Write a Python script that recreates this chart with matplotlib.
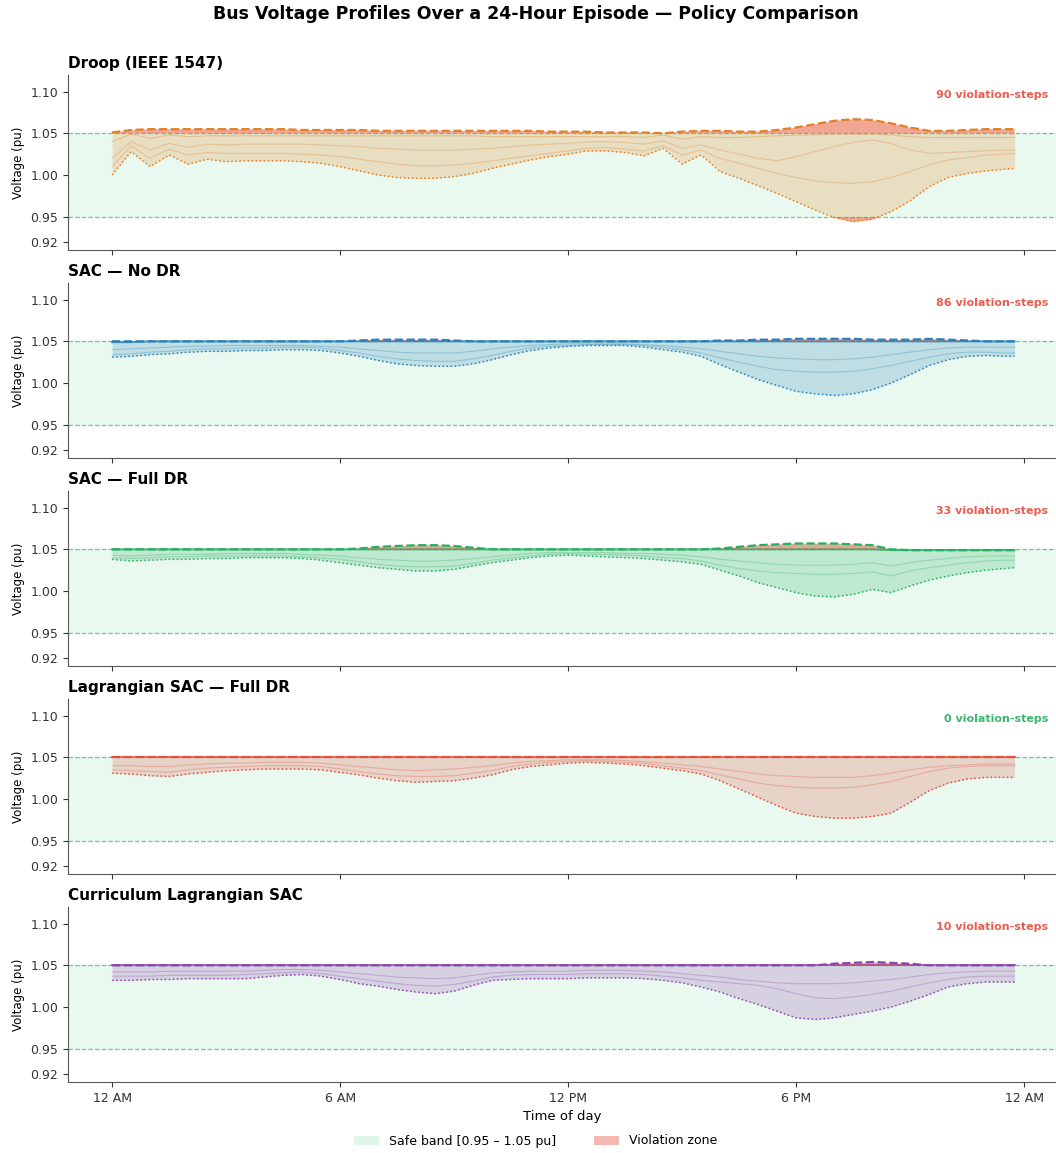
import matplotlib.pyplot as plt
from matplotlib.patches import Patch
import numpy as np

# time grid (hours) - half hour samples, last step at 23:45
hours = np.append(np.arange(0, 24, 0.5), 23.75)

policy_names = [
    "Droop (IEEE 1547)",
    "SAC — No DR",
    "SAC — Full DR",
    "Lagrangian SAC — Full DR",
    "Curriculum Lagrangian SAC",
]
policy_colors = ["#e67e22", "#2980b9", "#27ae60", "#e74c3c", "#8e44ad"]
violation_steps = [90, 86, 33, 0, 10]

tick_hours = [0, 6, 12, 18, 24]
tick_labels = ["12 AM", "6 AM", "12 PM", "6 PM", "12 AM"]

# ---- Droop ----
droop_max = [1.051, 1.054, 1.055, 1.055, 1.055, 1.055, 1.055, 1.055, 1.055, 1.055, 1.054, 1.054,
             1.054, 1.054, 1.053, 1.053, 1.053, 1.053, 1.053, 1.053, 1.053, 1.053, 1.053, 1.052,
             1.052, 1.052, 1.051, 1.051, 1.051, 1.050, 1.052, 1.053, 1.053, 1.052, 1.052, 1.054,
             1.057, 1.061, 1.065, 1.067, 1.066, 1.062, 1.057, 1.053, 1.053, 1.054, 1.055, 1.055, 1.055]
droop_min = [1.000, 1.028, 1.010, 1.024, 1.013, 1.019, 1.016, 1.017, 1.017, 1.017, 1.016, 1.014,
             1.010, 1.005, 1.000, 0.997, 0.996, 0.996, 0.998, 1.002, 1.008, 1.013, 1.018, 1.022,
             1.025, 1.029, 1.029, 1.027, 1.023, 1.032, 1.013, 1.024, 1.004, 0.996, 0.987, 0.978,
             0.968, 0.958, 0.949, 0.944, 0.947, 0.956, 0.969, 0.986, 0.997, 1.002, 1.005, 1.007, 1.008]
droop_bus1 = [1.040, 1.049, 1.044, 1.048, 1.046, 1.047, 1.047, 1.047, 1.047, 1.047, 1.047, 1.047,
              1.047, 1.047, 1.047, 1.047, 1.047, 1.047, 1.047, 1.047, 1.046, 1.046, 1.046, 1.046,
              1.046, 1.046, 1.046, 1.046, 1.045, 1.048, 1.043, 1.046, 1.045, 1.045, 1.046, 1.047,
              1.048, 1.048, 1.049, 1.049, 1.049, 1.048, 1.046, 1.045, 1.045, 1.045, 1.045, 1.045, 1.045]
droop_bus2 = [1.020, 1.040, 1.030, 1.038, 1.033, 1.037, 1.036, 1.037, 1.037, 1.037, 1.037, 1.036,
              1.035, 1.034, 1.032, 1.031, 1.030, 1.030, 1.030, 1.031, 1.032, 1.034, 1.036, 1.037,
              1.038, 1.040, 1.040, 1.039, 1.037, 1.041, 1.032, 1.036, 1.030, 1.025, 1.020, 1.017,
              1.022, 1.028, 1.034, 1.039, 1.042, 1.038, 1.030, 1.026, 1.027, 1.028, 1.029, 1.030, 1.030]
droop_bus3 = [1.010, 1.035, 1.020, 1.031, 1.024, 1.027, 1.026, 1.026, 1.026, 1.026, 1.025, 1.024,
              1.022, 1.019, 1.016, 1.013, 1.011, 1.011, 1.012, 1.014, 1.017, 1.020, 1.023, 1.026,
              1.029, 1.032, 1.033, 1.031, 1.029, 1.035, 1.024, 1.030, 1.020, 1.014, 1.008, 1.002,
              0.997, 0.993, 0.991, 0.990, 0.992, 0.997, 1.004, 1.012, 1.018, 1.021, 1.024, 1.025, 1.026]

# ---- SAC, no DR ----
sac_nodr_max = [1.050, 1.050, 1.050, 1.050, 1.050, 1.050, 1.050, 1.050, 1.050, 1.050, 1.050, 1.050,
                1.050, 1.051, 1.052, 1.052, 1.052, 1.052, 1.051, 1.050, 1.050, 1.050, 1.050, 1.050,
                1.050, 1.050, 1.050, 1.050, 1.050, 1.050, 1.050, 1.050, 1.051, 1.051, 1.052, 1.052,
                1.053, 1.053, 1.053, 1.053, 1.052, 1.052, 1.052, 1.053, 1.052, 1.051, 1.050, 1.050, 1.050]
sac_nodr_min = [1.031, 1.032, 1.034, 1.035, 1.037, 1.038, 1.038, 1.039, 1.039, 1.040, 1.040, 1.039,
                1.036, 1.032, 1.027, 1.023, 1.021, 1.020, 1.020, 1.023, 1.028, 1.034, 1.039, 1.042,
                1.044, 1.045, 1.045, 1.045, 1.043, 1.040, 1.037, 1.032, 1.022, 1.013, 1.004, 0.997,
                0.990, 0.987, 0.985, 0.987, 0.992, 1.000, 1.010, 1.021, 1.028, 1.032, 1.033, 1.032, 1.032]
sac_nodr_bus1 = [1.049, 1.049, 1.050, 1.050, 1.050, 1.050, 1.050, 1.050, 1.050, 1.050, 1.050, 1.050,
                 1.050, 1.050, 1.050, 1.050, 1.050, 1.050, 1.050, 1.050, 1.050, 1.050, 1.050, 1.050,
                 1.050, 1.050, 1.050, 1.050, 1.050, 1.050, 1.050, 1.050, 1.050, 1.050, 1.050, 1.050,
                 1.050, 1.050, 1.050, 1.050, 1.050, 1.050, 1.050, 1.050, 1.050, 1.050, 1.050, 1.050, 1.050]
sac_nodr_bus2 = [1.040, 1.041, 1.042, 1.043, 1.044, 1.044, 1.045, 1.045, 1.045, 1.045, 1.045, 1.044,
                 1.043, 1.041, 1.039, 1.037, 1.036, 1.036, 1.036, 1.038, 1.041, 1.043, 1.045, 1.046,
                 1.047, 1.047, 1.047, 1.047, 1.046, 1.045, 1.043, 1.041, 1.038, 1.035, 1.032, 1.030,
                 1.029, 1.028, 1.028, 1.029, 1.031, 1.034, 1.037, 1.040, 1.042, 1.043, 1.043, 1.043, 1.043]
sac_nodr_bus3 = [1.034, 1.035, 1.037, 1.038, 1.040, 1.041, 1.041, 1.042, 1.042, 1.043, 1.043, 1.042,
                 1.039, 1.036, 1.032, 1.029, 1.027, 1.026, 1.026, 1.029, 1.033, 1.038, 1.042, 1.044,
                 1.045, 1.046, 1.046, 1.046, 1.045, 1.043, 1.040, 1.036, 1.030, 1.025, 1.020, 1.016,
                 1.014, 1.013, 1.013, 1.014, 1.017, 1.021, 1.026, 1.031, 1.035, 1.037, 1.037, 1.036, 1.036]

# ---- SAC, full DR ----
sac_full_max = [1.050, 1.050, 1.050, 1.050, 1.050, 1.050, 1.050, 1.050, 1.050, 1.050, 1.050, 1.050,
                1.050, 1.051, 1.053, 1.054, 1.055, 1.055, 1.054, 1.052, 1.050, 1.050, 1.050, 1.050,
                1.050, 1.050, 1.050, 1.050, 1.050, 1.050, 1.050, 1.050, 1.051, 1.053, 1.055, 1.056,
                1.057, 1.057, 1.057, 1.056, 1.055, 1.050, 1.049, 1.049, 1.049, 1.049, 1.049, 1.049, 1.049]
sac_full_min = [1.038, 1.036, 1.037, 1.038, 1.038, 1.039, 1.039, 1.040, 1.040, 1.040, 1.039, 1.037,
                1.034, 1.031, 1.028, 1.026, 1.024, 1.024, 1.026, 1.030, 1.034, 1.037, 1.040, 1.042,
                1.043, 1.042, 1.041, 1.040, 1.039, 1.037, 1.035, 1.032, 1.025, 1.018, 1.010, 1.004,
                0.998, 0.994, 0.993, 0.996, 1.002, 0.998, 1.006, 1.013, 1.018, 1.022, 1.025, 1.027, 1.028]
sac_full_bus1 = [1.050, 1.050, 1.050, 1.050, 1.050, 1.050, 1.050, 1.050, 1.050, 1.050, 1.050, 1.050,
                 1.050, 1.050, 1.050, 1.050, 1.050, 1.050, 1.050, 1.050, 1.050, 1.050, 1.050, 1.050,
                 1.050, 1.050, 1.050, 1.050, 1.050, 1.050, 1.050, 1.050, 1.050, 1.050, 1.050, 1.050,
                 1.050, 1.050, 1.050, 1.050, 1.050, 1.049, 1.049, 1.049, 1.049, 1.049, 1.049, 1.049, 1.049]
sac_full_bus2 = [1.043, 1.042, 1.043, 1.044, 1.044, 1.044, 1.045, 1.045, 1.045, 1.045, 1.044, 1.043,
                 1.042, 1.040, 1.038, 1.037, 1.036, 1.036, 1.037, 1.039, 1.041, 1.043, 1.045, 1.046,
                 1.046, 1.046, 1.046, 1.045, 1.045, 1.044, 1.043, 1.041, 1.038, 1.036, 1.034, 1.032,
                 1.031, 1.031, 1.031, 1.032, 1.034, 1.030, 1.034, 1.037, 1.039, 1.041, 1.042, 1.042, 1.042]
sac_full_bus3 = [1.040, 1.039, 1.040, 1.041, 1.041, 1.042, 1.042, 1.042, 1.042, 1.042, 1.041, 1.040,
                 1.038, 1.035, 1.032, 1.030, 1.029, 1.029, 1.030, 1.033, 1.037, 1.040, 1.042, 1.044,
                 1.045, 1.044, 1.044, 1.043, 1.042, 1.040, 1.039, 1.036, 1.031, 1.027, 1.024, 1.022,
                 1.021, 1.020, 1.020, 1.021, 1.023, 1.018, 1.024, 1.028, 1.031, 1.034, 1.036, 1.037, 1.037]

# ---- Lagrangian SAC, full DR ----
lagr_max = [1.050, 1.050, 1.050, 1.050, 1.050, 1.050, 1.050, 1.050, 1.050, 1.050, 1.050, 1.050,
            1.050, 1.050, 1.050, 1.050, 1.050, 1.050, 1.050, 1.050, 1.050, 1.050, 1.050, 1.050,
            1.050, 1.050, 1.050, 1.050, 1.050, 1.050, 1.050, 1.050, 1.050, 1.050, 1.050, 1.050,
            1.050, 1.050, 1.050, 1.050, 1.050, 1.050, 1.050, 1.050, 1.050, 1.050, 1.050, 1.050, 1.050]
lagr_min = [1.031, 1.030, 1.028, 1.027, 1.030, 1.032, 1.034, 1.035, 1.036, 1.036, 1.036, 1.035,
            1.032, 1.029, 1.025, 1.022, 1.020, 1.021, 1.022, 1.025, 1.029, 1.035, 1.039, 1.041,
            1.043, 1.044, 1.043, 1.042, 1.040, 1.037, 1.034, 1.030, 1.022, 1.012, 1.002, 0.992,
            0.983, 0.979, 0.977, 0.977, 0.979, 0.983, 0.996, 1.010, 1.019, 1.024, 1.026, 1.026, 1.026]
lagr_bus1 = [1.050, 1.050, 1.050, 1.050, 1.050, 1.050, 1.050, 1.050, 1.050, 1.050, 1.050, 1.050,
             1.050, 1.050, 1.050, 1.050, 1.050, 1.050, 1.050, 1.050, 1.050, 1.050, 1.050, 1.050,
             1.050, 1.050, 1.050, 1.050, 1.050, 1.050, 1.050, 1.050, 1.050, 1.050, 1.050, 1.050,
             1.050, 1.050, 1.050, 1.050, 1.050, 1.050, 1.050, 1.050, 1.050, 1.050, 1.050, 1.050, 1.050]
lagr_bus2 = [1.040, 1.040, 1.039, 1.039, 1.041, 1.042, 1.043, 1.043, 1.044, 1.044, 1.044, 1.043,
             1.041, 1.039, 1.037, 1.035, 1.034, 1.035, 1.036, 1.038, 1.040, 1.043, 1.045, 1.046,
             1.047, 1.047, 1.047, 1.046, 1.045, 1.043, 1.041, 1.039, 1.036, 1.033, 1.030, 1.028,
             1.027, 1.026, 1.026, 1.026, 1.028, 1.031, 1.035, 1.038, 1.040, 1.041, 1.042, 1.042, 1.042]
lagr_bus3 = [1.035, 1.034, 1.033, 1.032, 1.035, 1.037, 1.038, 1.039, 1.040, 1.040, 1.040, 1.039,
             1.036, 1.033, 1.030, 1.028, 1.027, 1.027, 1.028, 1.031, 1.034, 1.039, 1.042, 1.044,
             1.045, 1.046, 1.045, 1.044, 1.043, 1.040, 1.037, 1.034, 1.029, 1.024, 1.019, 1.016,
             1.014, 1.013, 1.013, 1.014, 1.017, 1.021, 1.027, 1.033, 1.037, 1.039, 1.040, 1.040, 1.040]

# ---- Curriculum Lagrangian SAC ----
curr_max = [1.050, 1.050, 1.050, 1.050, 1.050, 1.050, 1.050, 1.050, 1.050, 1.050, 1.050, 1.050,
            1.050, 1.050, 1.050, 1.050, 1.050, 1.050, 1.050, 1.050, 1.050, 1.050, 1.050, 1.050,
            1.050, 1.050, 1.050, 1.050, 1.050, 1.050, 1.050, 1.050, 1.050, 1.050, 1.050, 1.050,
            1.050, 1.050, 1.052, 1.053, 1.054, 1.053, 1.052, 1.050, 1.050, 1.050, 1.050, 1.050, 1.050]
curr_min = [1.032, 1.032, 1.033, 1.033, 1.034, 1.034, 1.034, 1.034, 1.036, 1.038, 1.039, 1.037,
            1.033, 1.028, 1.025, 1.021, 1.018, 1.016, 1.019, 1.026, 1.032, 1.033, 1.034, 1.034,
            1.034, 1.035, 1.035, 1.035, 1.034, 1.032, 1.029, 1.024, 1.018, 1.010, 1.003, 0.995,
            0.987, 0.985, 0.987, 0.991, 0.995, 1.000, 1.007, 1.015, 1.024, 1.028, 1.030, 1.030, 1.030]
curr_bus1 = [1.050, 1.050, 1.050, 1.050, 1.050, 1.050, 1.050, 1.050, 1.050, 1.050, 1.050, 1.050,
             1.050, 1.050, 1.050, 1.050, 1.050, 1.050, 1.050, 1.050, 1.050, 1.050, 1.050, 1.050,
             1.050, 1.050, 1.050, 1.050, 1.050, 1.050, 1.050, 1.050, 1.050, 1.050, 1.050, 1.050,
             1.050, 1.050, 1.050, 1.050, 1.050, 1.050, 1.050, 1.050, 1.050, 1.050, 1.050, 1.050, 1.050]
curr_bus2 = [1.042, 1.042, 1.042, 1.043, 1.043, 1.043, 1.043, 1.043, 1.044, 1.045, 1.045, 1.044,
             1.042, 1.040, 1.038, 1.036, 1.035, 1.034, 1.035, 1.038, 1.041, 1.042, 1.043, 1.043,
             1.043, 1.044, 1.044, 1.044, 1.043, 1.042, 1.040, 1.038, 1.036, 1.033, 1.031, 1.029,
             1.028, 1.028, 1.028, 1.029, 1.031, 1.033, 1.036, 1.039, 1.041, 1.042, 1.043, 1.043, 1.043]
curr_bus3 = [1.037, 1.037, 1.037, 1.038, 1.038, 1.038, 1.038, 1.039, 1.040, 1.041, 1.042, 1.040,
             1.037, 1.034, 1.031, 1.028, 1.026, 1.025, 1.027, 1.031, 1.036, 1.038, 1.039, 1.039,
             1.039, 1.040, 1.040, 1.040, 1.039, 1.037, 1.035, 1.032, 1.030, 1.028, 1.026, 1.022,
             1.016, 1.011, 1.010, 1.012, 1.015, 1.019, 1.024, 1.029, 1.033, 1.036, 1.037, 1.037, 1.037]

v_max_all = [droop_max, sac_nodr_max, sac_full_max, lagr_max, curr_max]
v_min_all = [droop_min, sac_nodr_min, sac_full_min, lagr_min, curr_min]
buses_all = [
    [droop_bus1, droop_bus2, droop_bus3],
    [sac_nodr_bus1, sac_nodr_bus2, sac_nodr_bus3],
    [sac_full_bus1, sac_full_bus2, sac_full_bus3],
    [lagr_bus1, lagr_bus2, lagr_bus3],
    [curr_bus1, curr_bus2, curr_bus3],
]

V_LO, V_HI = 0.95, 1.05
SAFE_C = "#2ecc71"
VIOL_C = "#e74c3c"

W, H = 1056, 1153
fig = plt.figure(figsize=(W / 100, H / 100), dpi=100)

axes = []
for i in range(5):
    top_px = 75 + 208 * i
    ax = fig.add_axes([68 / W, 1 - (top_px + 175) / H, 988 / W, 175 / H])
    axes.append(ax)

for i, ax in enumerate(axes):
    c = policy_colors[i]
    vmax = np.array(v_max_all[i])
    vmin = np.array(v_min_all[i])

    # safe band
    ax.axhspan(V_LO, V_HI, color=SAFE_C, alpha=0.1, lw=0, zorder=0)
    ax.axhline(V_LO, color=SAFE_C, ls="--", lw=0.9, alpha=0.8, zorder=1)
    ax.axhline(V_HI, color=SAFE_C, ls="--", lw=0.9, alpha=0.8, zorder=1)

    # envelope of all buses
    ax.fill_between(hours, vmin, vmax, color=c, alpha=0.22, lw=0, zorder=2)
    head, *others = buses_all[i]
    # feeder head bus is held at the limit by the RL agents
    head_alpha = 0.35 if i == 0 else 0.8
    head_lw = 0.8 if i == 0 else 1.4
    ax.plot(hours, head, color=c, lw=head_lw, alpha=head_alpha, zorder=3)
    for b in others:
        ax.plot(hours, b, color=c, lw=0.8, alpha=0.3, zorder=3)
    ax.plot(hours, vmax, color=c, ls="--", lw=1.6, zorder=4)
    ax.plot(hours, vmin, color=c, ls=":", lw=1.1, zorder=4)

    # violation zones
    ax.fill_between(hours, V_HI, vmax, where=vmax > V_HI, interpolate=True,
                    color=VIOL_C, alpha=0.4, lw=0, zorder=3)
    ax.fill_between(hours, vmin, V_LO, where=vmin < V_LO, interpolate=True,
                    color=VIOL_C, alpha=0.4, lw=0, zorder=3)

    n = violation_steps[i]
    ax.text(0.992, 0.886, f"{n} violation-steps", transform=ax.transAxes,
            ha="right", va="center", fontsize=8, fontweight="bold",
            color=VIOL_C if n > 0 else "#27ae60", alpha=0.9)

    ax.set_title(policy_names[i], loc="left", fontsize=11, fontweight="bold", pad=5)
    ax.set_xlim(-1.16, 24.84)
    ax.set_ylim(0.91, 1.12)
    ax.set_yticks([0.92, 0.95, 1.00, 1.05, 1.10])
    ax.set_yticklabels(["0.92", "0.95", "1.00", "1.05", "1.10"])
    ax.set_xticks(tick_hours)
    ax.set_ylabel("Voltage (pu)", fontsize=8.5)
    ax.tick_params(labelsize=9, colors="#333333")
    for s in ["top", "right"]:
        ax.spines[s].set_visible(False)
    for s in ["left", "bottom"]:
        ax.spines[s].set_color("#555555")
    if i < 4:
        ax.set_xticklabels([])
    else:
        ax.set_xticklabels(tick_labels)
        ax.set_xlabel("Time of day", fontsize=9.5)

fig.text(0.507, 0.996, "Bus Voltage Profiles Over a 24-Hour Episode — Policy Comparison",
         ha="center", va="top", fontsize=12.5, fontweight="bold")

handles = [
    Patch(facecolor=SAFE_C, alpha=0.15, label="Safe band [0.95 – 1.05 pu]"),
    Patch(facecolor=VIOL_C, alpha=0.4, label="Violation zone"),
]
fig.legend(handles=handles, loc="center", bbox_to_anchor=(0.507, 1 - 1141 / H),
           ncol=2, frameon=False, fontsize=9, columnspacing=3)

fig.savefig("out.png", dpi=100)
